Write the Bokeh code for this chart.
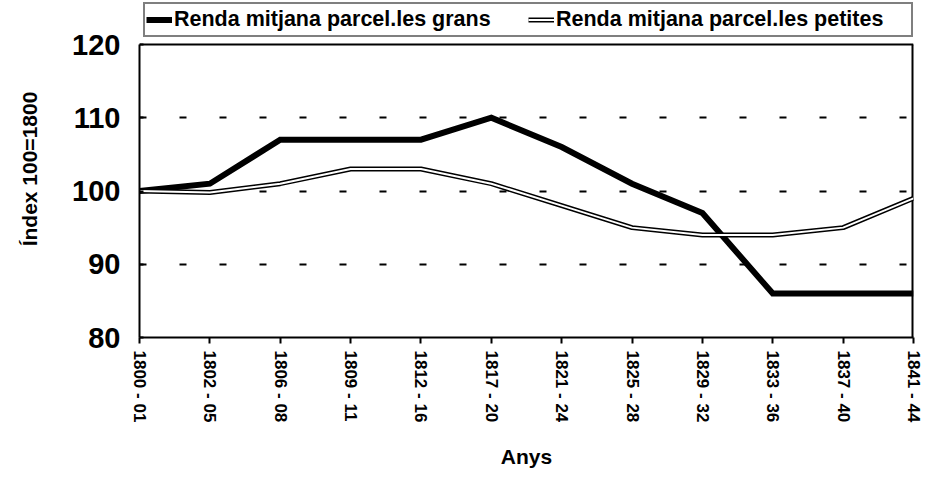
from bokeh.plotting import figure
from bokeh.models import FixedTicker, Legend, LegendItem, Range1d, ColumnDataSource, Span
from bokeh.embed import file_html
from bokeh.resources import INLINE

periods = ["1800 - 01", "1802 - 05", "1806 - 08", "1809 - 11", "1812 - 16", "1817 - 20",
           "1821 - 24", "1825 - 28", "1829 - 32", "1833 - 36", "1837 - 40", "1841 - 44"]
grans = [100, 101, 107, 107, 107, 110, 106, 101, 97, 86, 86, 86]
petites = [100, 99.8, 101, 103, 103, 101, 98, 95, 94, 94, 95, 99]
y_ticks = [80, 90, 100, 110, 120]
grid_levels = [90, 100, 110]
series_names = ["Renda mitjana parcel.les grans", "Renda mitjana parcel.les petites"]
x_title = "Anys"
y_title = "Índex 100=1800"

idx = list(range(len(periods)))
src = ColumnDataSource(dict(x=idx, grans=grans, petites=petites))

FONT = "Liberation Sans"

# layout (page pixels): plot box from y=44 (top value) to y=337 (bottom value);
# the frame is extended up to y=0 so that the legend can sit above the plot box.
BOX_TOP, BOX_BOTTOM, FRAME_TOP = 44, 337, 0
px_per_unit = (BOX_BOTTOM - BOX_TOP) / (y_ticks[-1] - y_ticks[0])
y_end = y_ticks[-1] + (BOX_TOP - FRAME_TOP) / px_per_unit

p = figure(width=929, height=479, output_backend="svg", toolbar_location=None,
           x_range=Range1d(0, len(periods) - 1), y_range=Range1d(y_ticks[0], y_end),
           min_border_left=139, min_border_right=16, min_border_top=FRAME_TOP,
           min_border_bottom=479 - BOX_BOTTOM,
           background_fill_color="white", border_fill_color="white")
p.outline_line_color = None

# plot box: top and right edges
p.add_layout(Span(location=y_ticks[-1], dimension="width", line_color="black", line_width=2))
p.segment(x0=[idx[-1]], y0=[y_ticks[0]], x1=[idx[-1]], y1=[y_ticks[-1]],
          line_color="black", line_width=4)

r1 = p.line("x", "grans", source=src, line_color="black", line_width=6, line_join="miter")
r2a = p.line("x", "petites", source=src, line_color="black", line_width=5)
r2b = p.line("x", "petites", source=src, line_color="white", line_width=2)

# axes
p.xaxis.ticker = FixedTicker(ticks=idx)
p.xaxis.major_label_overrides = {i: s for i, s in zip(idx, periods)}
p.xaxis.major_label_orientation = "vertical"
p.xaxis.major_label_text_font = FONT
p.xaxis.major_label_text_font_style = "bold"
p.xaxis.major_label_text_font_size = "17px"
p.xaxis.major_label_standoff = 7
p.xaxis.major_tick_in = 0
p.xaxis.major_tick_out = 6
p.xaxis.minor_tick_line_color = None
p.xaxis.axis_label = x_title
p.xaxis.axis_label_text_font = FONT
p.xaxis.axis_label_text_font_style = "bold"
p.xaxis.axis_label_text_font_size = "21px"
p.xaxis.axis_label_standoff = 20

p.yaxis.ticker = FixedTicker(ticks=y_ticks)
p.yaxis.bounds = (y_ticks[0], y_ticks[-1])
p.yaxis.major_label_text_font = FONT
p.yaxis.major_label_text_font_style = "bold"
p.yaxis.major_label_text_font_size = "29px"
p.yaxis.major_label_standoff = 19
p.yaxis.major_tick_in = 4
p.yaxis.major_tick_out = 0
p.yaxis.minor_tick_line_color = None
p.yaxis.axis_label = y_title
p.yaxis.axis_label_text_font = FONT
p.yaxis.axis_label_text_font_style = "bold"
p.yaxis.axis_label_text_font_size = "21px"
p.yaxis.axis_label_standoff = 28

for ax in (p.xaxis, p.yaxis):
    ax.axis_line_width = 2
    ax.axis_line_color = "black"
    ax.major_tick_line_width = 2
    ax.major_tick_line_color = "black"
    ax.major_label_text_color = "black"
    ax.axis_label_text_color = "black"

p.xgrid.grid_line_color = None
p.ygrid.ticker = FixedTicker(ticks=grid_levels)
p.ygrid.grid_line_color = "black"
p.ygrid.grid_line_width = 2
p.ygrid.grid_line_dash = "7 33"

legend = Legend(items=[LegendItem(label=series_names[0], renderers=[r1]),
                       LegendItem(label=series_names[1], renderers=[r2a, r2b])],
                location=(4, BOX_BOTTOM - 37), orientation="horizontal",
                padding=1, spacing=0, margin=0,
                glyph_width=26, glyph_height=29, label_height=29, label_width=354,
                label_standoff=2, label_text_color="black",
                label_text_font=FONT, label_text_font_style="bold", label_text_font_size="21.5px",
                border_line_color="black", border_line_width=2,
                background_fill_color="white", background_fill_alpha=1)
p.add_layout(legend)

open("out.html", "w").write(file_html(p, INLINE))
